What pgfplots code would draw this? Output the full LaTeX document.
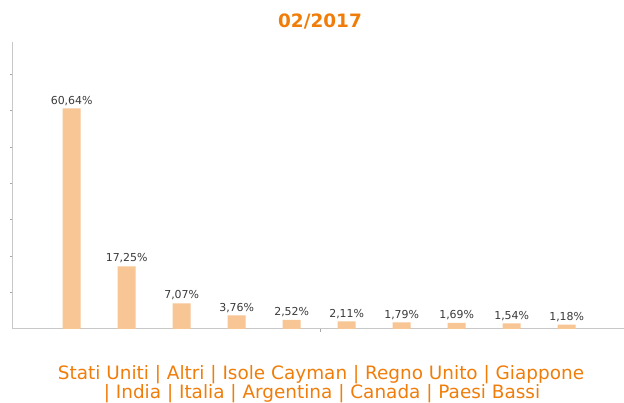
\documentclass[border=0pt]{standalone}
\usepackage{pgfplots}
\pgfplotsset{compat=1.18}
\usepackage{fontspec}
\setmainfont{DejaVu Sans}
\definecolor{barc}{HTML}{F8C595}
\definecolor{orangetxt}{HTML}{F07D0A}
\definecolor{axgray}{HTML}{C8C8C8}
\definecolor{lblgray}{HTML}{3A3A3A}
\begin{document}
\begin{tikzpicture}
\path[use as bounding box] (0,0) rectangle (624bp,403bp);
\begin{axis}[
  at={(13bp,74bp)}, anchor=south west,
  scale only axis, width=611bp, height=287bp,
  xmin=-0.067, xmax=11.042, ymin=0, ymax=78.9,
  axis x line=bottom, axis y line=left,
  axis line style={draw=axgray, line width=1bp, -},
  ytick={10,20,30,40,50,60,70}, yticklabels={},
  xtick={5.515}, xticklabels={},
  tick align=outside, major tick length=3bp,
  tick style={draw=gray!70, line width=0.8bp},
  /pgf/number format/assume math mode=true,
  ybar, bar width=18bp,
  point meta=y,
  nodes near coords={\pgfmathprintnumber[use comma, fixed, fixed zerofill, precision=2]{\pgfplotspointmeta}\%},
  every node near coord/.append style={font=\fontsize{11}{13}\selectfont, text=lblgray, yshift=-0.5bp},
  clip=false,
]
\addplot[fill=barc, draw=none] coordinates {
(1,60.64) (2,17.25) (3,7.07) (4,3.76) (5,2.52) (6,2.11) (7,1.79) (8,1.69) (9,1.54) (10,1.18)
};
\end{axis}
\node[text=orangetxt, font=\bfseries\fontsize{18.5}{22}\selectfont] at (320bp,381bp) {02/2017};
\node[text=orangetxt, font=\fontsize{18.5}{21}\selectfont, anchor=base, inner sep=0pt] at (321bp,24bp) {Stati Uniti | Altri | Isole Cayman | Regno Unito | Giappone};
\node[text=orangetxt, font=\fontsize{18.5}{21}\selectfont, anchor=base, inner sep=0pt] at (322bp,4.6bp) {| India | Italia | Argentina | Canada | Paesi Bassi};
\end{tikzpicture}
\end{document}
